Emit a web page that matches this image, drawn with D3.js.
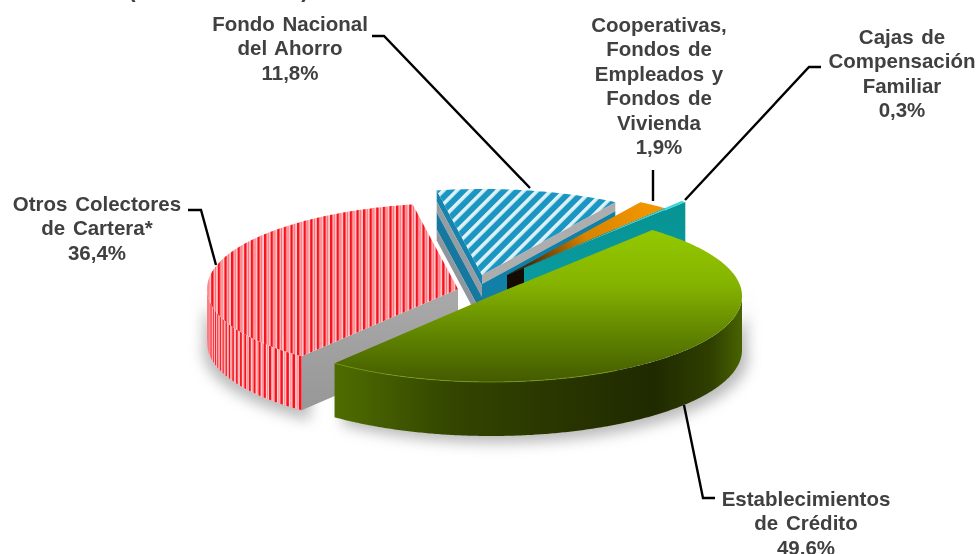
<!DOCTYPE html>
<html>
<head>
<meta charset="utf-8">
<script src="https://d3js.org/d3.v7.min.js"></script>
<style>
  html, body { margin: 0; padding: 0; background: #fff; overflow: hidden; }
  text { font-family: "Liberation Sans", Arial, sans-serif; font-weight: bold; font-size: 20.5px; fill: #404040; }
</style>
</head>
<body>
<svg id="chart" width="979" height="554"></svg>
<script>
const categories = ['Establecimientos de Crédito', 'Otros Colectores de Cartera*', 'Fondo Nacional del Ahorro', 'Cooperativas, Fondos de Empleados y Fondos de Vivienda', 'Cajas de Compensación Familiar'];
const shares = [49.6, 36.4, 11.8, 1.9, 0.3];
const shareLabels = ['49,6%', '36,4%', '11,8%', '1,9%', '0,3%'];
const labelLines = [
  ['Establecimientos', 'de Crédito'],
  ['Otros Colectores', 'de Cartera*'],
  ['Fondo Nacional', 'del Ahorro'],
  ['Cooperativas,', 'Fondos de', 'Empleados y', 'Fondos de', 'Vivienda'],
  ['Cajas de', 'Compensación', 'Familiar'],
];

// layout of the exploded slices, in px
const rx = 251, ry = 86, depth = 54;
const centers = [[491, 296], [458, 289], [482, 275], [507, 275], [524, 268]];
const labelPos = [[806, 506], [97, 211], [290, 31], [659, 32], [902, 44]];
const leaders = [
  [[684, 405], [703, 498], [715, 498]],
  [[188, 210], [201, 210], [216, 265]],
  [[372, 36], [384, 36], [530, 188]],
  [[653, 170], [653, 201]],
  [[821, 67], [809, 67], [685, 200]],
];

const rad = Math.PI / 180;
const svg = d3.select('#chart');
const defs = svg.append('defs');

const pieLayout = d3.pie().sort(null).startAngle(40 * rad).endAngle(400 * rad);
const arcs = pieLayout(shares);

function pt(i, a, dy = 0) {
  return [centers[i][0] + rx * Math.sin(a), centers[i][1] - ry * Math.cos(a) + dy];
}
const line = d3.line();

function arcPoints(i, a0, a1, dy = 0) {
  const n = Math.max(2, Math.ceil(Math.abs(a1 - a0) / (0.5 * rad)));
  return d3.range(n + 1).map((k) => pt(i, a0 + (a1 - a0) * k / n, dy));
}
function topPath(i) {
  const d = arcs[i];
  return line([centers[i], ...arcPoints(i, d.startAngle, d.endAngle)]) + 'Z';
}
function sidePath(i, a0, a1) {
  return line([...arcPoints(i, a0, a1), ...arcPoints(i, a1, a0, depth)]) + 'Z';
}
// band of a straight cut face, from depth d0 to d1 below the top edge
function cutBand(i, a, d0, d1) {
  const c = centers[i], p = pt(i, a);
  return line([[c[0], c[1] + d0], [p[0], p[1] + d0], [p[0], p[1] + d1], [c[0], c[1] + d1]]) + 'Z';
}

// patterns and gradients
const redPat = defs.append('pattern').attr('id', 'redStripes').attr('patternUnits', 'userSpaceOnUse')
  .attr('width', 6.6).attr('height', 10);
redPat.append('rect').attr('width', 6.6).attr('height', 10).attr('fill', '#ffc8cc');
redPat.append('rect').attr('x', 0).attr('width', 2.4).attr('height', 10).attr('fill', '#f5121c');
redPat.append('rect').attr('x', 3.6).attr('width', 1.2).attr('height', 10).attr('fill', '#ff6b70');

const bluePat = defs.append('pattern').attr('id', 'blueStripes').attr('patternUnits', 'userSpaceOnUse')
  .attr('width', 9.5).attr('height', 9.5).attr('patternTransform', 'rotate(-45)');
bluePat.append('rect').attr('width', 9.5).attr('height', 9.5).attr('fill', '#1a96c2');
bluePat.append('rect').attr('y', 0).attr('width', 9.5).attr('height', 3.6).attr('fill', '#dff1f7');

function linearGrad(id, x1, y1, x2, y2, stops) {
  const g = defs.append('linearGradient').attr('id', id).attr('gradientUnits', 'userSpaceOnUse')
    .attr('x1', x1).attr('y1', y1).attr('x2', x2).attr('y2', y2);
  stops.forEach(([o, c]) => g.append('stop').attr('offset', o).attr('stop-color', c));
}
linearGrad('greenTop', 0, 230, 0, 383, [[0, '#93c800'], [0.35, '#85b400'], [0.7, '#5f8200'], [1, '#425a00']]);
linearGrad('greenSide', 334, 0, 743, 0, [[0, '#4f6c00'], [0.05, '#4a6600'], [0.29, '#334500'], [0.62, '#263200'], [0.78, '#1f2a00'], [0.92, '#2f3f00'], [1, '#4a6400']]);
linearGrad('grayFace', 0, 300, 0, 410, [[0, '#a8a8a8'], [1, '#979797']]);
linearGrad('orangeTop', 640, 202, 515, 272, [[0, '#f09400'], [0.45, '#d88400'], [1, '#2a1500']]);
linearGrad('tealFace', 0, 205, 0, 290, [[0, '#089393'], [1, '#0a9ba0']]);

defs.append('filter').attr('id', 'soft').attr('x', '-20%').attr('y', '-20%').attr('width', '140%').attr('height', '140%')
  .append('feGaussianBlur').attr('stdDeviation', 7);
defs.append('filter').attr('id', 'slight')
  .append('feGaussianBlur').attr('stdDeviation', 0.6);

// soft shadow under the pie
const shadow = svg.append('g').attr('filter', 'url(#soft)').attr('fill', '#a8a8a8').attr('opacity', 0.8);
shadow.append('path').attr('d', sidePath(1, 215 * rad, 275 * rad)).attr('transform', 'translate(-4,7)');
shadow.append('path').attr('d', sidePath(0, 85 * rad, 218 * rad)).attr('transform', 'translate(6,7)');

// red slice
const red = arcs[1];
svg.append('path').attr('d', cutBand(1, red.startAngle, 0, depth)).attr('fill', 'url(#grayFace)');
const stripeStep = 1.9 * rad;
const sideEnd = Math.min(red.endAngle, 272 * rad);
svg.append('path').attr('d', sidePath(1, red.startAngle, sideEnd)).attr('fill', '#ffd4d6');
d3.range(red.startAngle, sideEnd, stripeStep).forEach((a) => {
  svg.append('path').attr('d', sidePath(1, a, a + stripeStep * 0.42)).attr('fill', '#f5121c');
  svg.append('path').attr('d', sidePath(1, a + stripeStep * 0.6, a + stripeStep * 0.75)).attr('fill', '#ff7a80');
});
svg.append('path').attr('d', topPath(1)).attr('fill', 'url(#redStripes)');

// blue slice: the two cut faces carry long bands
const blue = arcs[2];
const blueLeft = svg.append('g').attr('filter', 'url(#slight)');
[[0, 11, '#1484ad'], [11, 22, '#959da2'], [22, 39, '#14789f'], [39, 50, '#8f979c']].forEach(([d0, d1, c]) => {
  blueLeft.append('path').attr('d', cutBand(2, blue.startAngle, d0, d1)).attr('fill', c);
});
[[0, 9, '#adadad'], [9, depth, '#127fa6']].forEach(([d0, d1, c]) => {
  svg.append('path').attr('d', cutBand(2, blue.endAngle, d0, d1)).attr('fill', c);
});
svg.append('path').attr('d', topPath(2)).attr('fill', 'url(#blueStripes)');

// cooperativas slice
const coop = arcs[3];
svg.append('path').attr('d', cutBand(3, coop.endAngle, 0, depth)).attr('fill', '#140c02');
svg.append('path').attr('d', topPath(3)).attr('fill', 'url(#orangeTop)');

// cajas slice
const cajas = arcs[4];
svg.append('path').attr('d', cutBand(4, cajas.endAngle, 0, depth)).attr('fill', 'url(#tealFace)');
svg.append('path').attr('d', topPath(4)).attr('fill', '#35d6dc');

// green slice
const green = arcs[0];
svg.append('path').attr('d', sidePath(0, 90 * rad, green.endAngle)).attr('fill', 'url(#greenSide)');
svg.append('path').attr('d', topPath(0)).attr('fill', 'url(#greenTop)');
svg.append('path').attr('d', line(arcPoints(0, 150 * rad, green.endAngle))).attr('fill', 'none')
  .attr('stroke', '#86ac10').attr('stroke-width', 1).attr('opacity', 0.6);

// leader lines
svg.append('g').selectAll('path').data(leaders).join('path')
  .attr('d', (d) => line(d)).attr('fill', 'none').attr('stroke', '#000').attr('stroke-width', 2.4);

// labels
const lineH = 24.4;
const labels = svg.append('g').selectAll('text').data(categories).join('text')
  .attr('text-anchor', 'middle')
  .style('word-spacing', '2px');
labels.each(function (d, i) {
  const rows = [...labelLines[i], shareLabels[i]];
  d3.select(this).selectAll('tspan').data(rows).join('tspan')
    .attr('x', labelPos[i][0])
    .attr('y', (r, k) => labelPos[i][1] + k * lineH)
    .text((r) => r);
});

// the title sits above the crop, only its parentheses reach the picture
svg.append('g').selectAll('text').data(['(', ')']).join('text')
  .attr('x', (d) => (d === '(' ? 132 : 305)).attr('y', -3)
  .attr('text-anchor', 'middle').style('font-size', '22px').attr('fill', '#000')
  .text((d) => d);
</script>
</body>
</html>
